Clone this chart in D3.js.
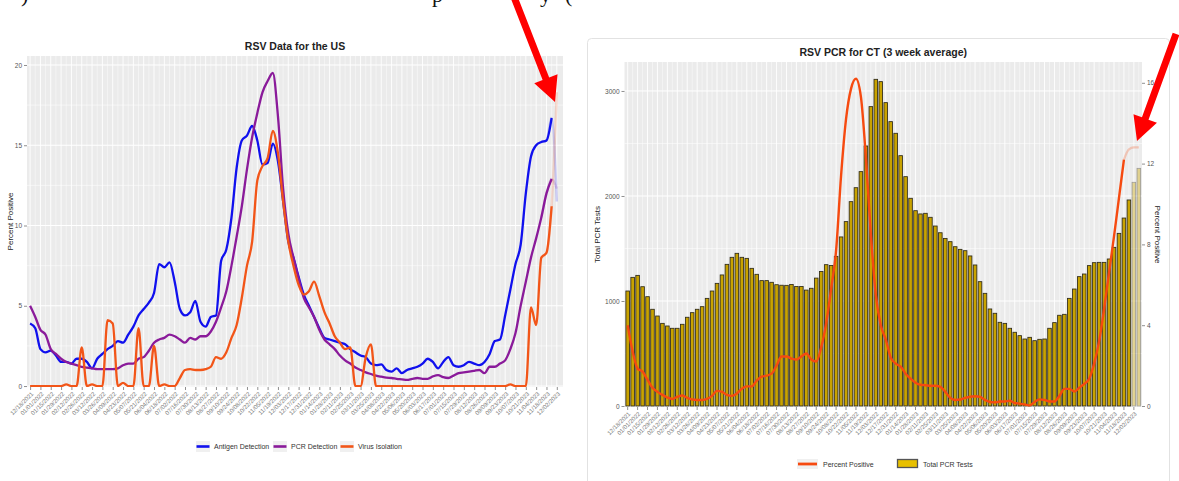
<!DOCTYPE html>
<html>
<head>
<meta charset="utf-8">
<script src="https://cdn.jsdelivr.net/npm/d3@7"></script>
<style>
  body { margin: 0; background: #fff; }
  svg { display: block; font-family: "Liberation Sans", Arial, sans-serif; }
</style>
</head>
<body>
<script>
// biweekly tick labels shared by both panels (week 0 = 12/18/2021)
const tickLabels = ["12/18/2021","01/01/2022","01/15/2022","01/29/2022","02/12/2022","02/26/2022","03/12/2022","03/26/2022","04/09/2022","04/23/2022","05/07/2022","05/21/2022","06/04/2022","06/18/2022","07/02/2022","07/16/2022","07/30/2022","08/13/2022","08/27/2022","09/10/2022","09/24/2022","10/08/2022","10/22/2022","11/05/2022","11/19/2022","12/03/2022","12/17/2022","12/31/2022","01/14/2023","01/28/2023","02/11/2023","02/25/2023","03/11/2023","03/25/2023","04/08/2023","04/22/2023","05/06/2023","05/20/2023","06/03/2023","06/17/2023","07/01/2023","07/15/2023","07/29/2023","08/12/2023","08/26/2023","09/09/2023","09/23/2023","10/07/2023","10/21/2023","11/04/2023","11/18/2023","12/02/2023"];

// US weekly percent positive, last value is the faded (incomplete) week
const antigen = [3.9,3.6,2.3,2.1,2.2,1.9,1.5,1.5,1.4,1.7,
  1.7,1.5,1.1,1.7,2.0,2.3,2.5,2.8,2.7,3.2,
  3.7,4.4,4.8,5.2,5.8,7.6,7.4,7.7,6.5,4.8,
  4.4,4.6,5.3,4.0,3.7,4.3,4.4,7.8,8.5,10.5,
  13.6,15.3,15.6,16.2,15.3,13.8,13.9,15.1,14.0,11.5,
  9.0,8.0,6.8,5.7,5.0,4.3,3.6,3.0,2.9,2.8,
  2.7,2.6,2.3,2.1,1.9,1.8,1.4,1.3,1.35,1.0,
  0.9,1.1,0.8,1.0,1.1,1.2,1.4,1.7,1.5,1.1,
  1.5,1.8,1.3,1.2,1.3,1.5,1.4,1.3,1.5,2.0,
  2.8,2.9,4.4,6.0,7.6,8.8,12.0,14.3,15.0,15.2,
  15.3,16.7,11.5];
const pcrUS = [5.0,4.3,3.5,3.2,2.3,2.0,1.7,1.5,1.4,1.3,
  1.2,1.15,1.1,1.05,1.05,1.05,1.05,1.1,1.3,1.4,
  1.4,1.7,1.8,2.2,2.7,2.9,3.0,3.2,3.1,2.9,
  2.7,3.0,2.9,3.1,3.1,3.4,4.0,4.9,5.9,7.5,
  9.3,11.2,13.5,15.5,17.0,18.3,19.0,19.5,16.8,12.3,
  9.5,8.0,6.7,5.5,4.9,4.3,3.5,2.9,2.6,2.3,
  1.9,1.6,1.4,1.15,1.0,0.85,0.75,0.65,0.58,0.52,
  0.5,0.45,0.42,0.38,0.45,0.5,0.45,0.45,0.6,0.68,
  0.55,0.5,0.65,0.8,0.85,0.9,0.95,1.0,0.8,1.2,
  1.2,1.4,1.6,2.3,3.3,5.0,6.5,8.0,9.2,10.5,
  12.0,12.9,12.3];
const virusIso = [0,0,0,0,0,0,0,0.1,0,0,
  2.4,0,0.1,0,0,4.1,3.9,0,0.2,0,
  0,3.6,0,0,2.5,0,0.1,0,0,0.5,
  1.0,1.05,1.0,1.0,1.05,1.2,1.8,1.7,2.1,3.0,
  3.8,5.5,7.5,9.0,12.8,13.7,14.2,15.9,14.5,11.5,
  9.0,7.5,6.3,5.7,5.9,6.5,5.6,4.6,3.9,3.1,
  2.7,2.3,2.4,0,0,1.8,2.6,0,0,0,
  0,0,0,0,0,0,0,0,0,0,
  0,0,0,0,0,0,0,0,0,0,
  0,0,0,0.1,0,0,0,4.9,3.8,8.0,
  8.3,11.2,18.3];

// CT weekly totals (3 week average), last two weeks faded
const ctTests = [1095,1225,1244,1136,1041,921,857,787,762,740,
  740,778,845,889,921,946,1025,1095,1168,1248,
  1349,1416,1454,1416,1406,1311,1254,1194,1194,1178,
  1155,1150,1149,1157,1138,1138,1104,1121,1218,1281,
  1346,1338,1425,1610,1756,1946,2079,2232,2476,2851,
  3111,3089,2889,2708,2597,2384,2184,1978,1860,1829,
  1835,1797,1714,1650,1596,1565,1517,1492,1479,1429,
  1343,1184,1073,924,883,797,787,740,702,670,
  638,654,622,635,638,740,794,864,873,1025,
  1114,1232,1257,1337,1365,1368,1368,1400,1511,1644,
  1790,1962,2130,2263];
// CT percent positive, weeks 101-103 faded
const ctPct = [4.0,2.7,1.85,1.7,1.3,0.9,0.7,0.55,0.42,0.35,
  0.45,0.52,0.4,0.32,0.3,0.3,0.35,0.5,0.75,0.7,
  0.55,0.5,0.62,0.85,0.97,0.97,1.25,1.45,1.5,1.6,
  2.0,2.45,2.45,2.35,2.3,2.45,2.6,2.3,2.2,2.9,
  4.1,5.8,7.7,11.4,14.2,15.7,16.2,15.3,12.3,8.5,
  5.5,4.0,3.3,2.4,2.1,1.95,1.6,1.35,1.15,1.05,
  1.03,1.0,1.0,0.95,0.7,0.4,0.3,0.32,0.4,0.46,
  0.48,0.45,0.3,0.2,0.18,0.22,0.22,0.26,0.15,0.12,
  0.08,0.03,0.2,0.33,0.3,0.22,0.22,0.5,0.85,0.85,
  0.72,0.9,1.1,1.35,2.1,3.2,4.8,6.6,8.4,10.3,
  12.2,12.7,12.8,12.8];

const usNames = ["Antigen Detection","PCR Detection","Virus Isolation"];
const usColors = ["#1010ee","#8a1a9a","#f25518"];
const ctColor = "#f64a10";

var svg = d3.select("body").append("svg")
  .attr("width", 1179).attr("height", 481);

// cut-off line of report text above the figures
var topBits = [[")", 21], ["p", 432], ["y", 540], ["(", 565]];
svg.append("g").selectAll("text").data(topBits).enter().append("text")
  .attr("x", d => d[1]).attr("y", 2)
  .attr("font-family", "'Liberation Serif', 'DejaVu Serif', serif")
  .attr("font-size", 22).attr("fill", "#111")
  .text(d => d[0]);

// ================= left: RSV Data for the US =================
var L = {x0: 27, x1: 563, y0: 56, y1: 387};
var xUS = d3.scaleLinear().domain([-0.6, 103.2]).range([L.x0, L.x1]);
var yUS = d3.scaleLinear().domain([-0.06, 20.56]).range([L.y1, L.y0]);

var gL = svg.append("g");
gL.append("rect").attr("x", L.x0).attr("y", L.y0)
  .attr("width", L.x1 - L.x0).attr("height", L.y1 - L.y0).attr("fill", "#ebebeb");

//minor and major grid
gL.append("g").selectAll("line").data([2.5, 7.5, 12.5, 17.5]).enter().append("line")
  .attr("x1", L.x0).attr("x2", L.x1).attr("y1", d => yUS(d)).attr("y2", d => yUS(d))
  .attr("stroke", "#fff").attr("stroke-width", 0.5);
gL.append("g").selectAll("line").data(d3.range(0, 103)).enter().append("line")
  .attr("x1", d => xUS(d)).attr("x2", d => xUS(d)).attr("y1", L.y0).attr("y2", L.y1)
  .attr("stroke", "#fff").attr("stroke-width", d => d % 2 ? 0.45 : 0.9);
gL.append("g").selectAll("line").data([0, 5, 10, 15, 20]).enter().append("line")
  .attr("x1", L.x0).attr("x2", L.x1).attr("y1", d => yUS(d)).attr("y2", d => yUS(d))
  .attr("stroke", "#fff").attr("stroke-width", 1);

svg.append("clipPath").attr("id", "clipL").append("rect")
  .attr("x", L.x0).attr("y", L.y0 - 2).attr("width", L.x1 - L.x0).attr("height", L.y1 - L.y0 + 2);

var usLine = d3.line().x(d => xUS(d[0])).y(d => yUS(d[1])).curve(d3.curveMonotoneX);
var usSeries = [antigen, pcrUS, virusIso];
var linesL = gL.append("g").attr("clip-path", "url(#clipL)");
usSeries.forEach(function(vals, k) {
  var pts = vals.map((v, i) => [i, v]);
  linesL.append("path").datum(pts.slice(99))
    .attr("d", usLine).attr("fill", "none")
    .attr("stroke", usColors[k]).attr("stroke-width", 2.4).attr("opacity", 0.18);
  linesL.append("path").datum(pts.slice(0, 102))
    .attr("d", usLine).attr("fill", "none")
    .attr("stroke", usColors[k]).attr("stroke-width", 2.3)
    .attr("stroke-linejoin", "round");
});

// axes
var axLy = gL.append("g").attr("transform", `translate(${L.x0},0)`)
  .call(d3.axisLeft(yUS).tickValues([0, 5, 10, 15, 20]).tickSize(3).tickPadding(2));
var axLx = gL.append("g").attr("transform", `translate(0,${L.y1})`)
  .call(d3.axisBottom(xUS).tickValues(d3.range(0, 103, 2)).tickSize(3)
    .tickFormat(d => tickLabels[d / 2]));
[axLy, axLx].forEach(function(ax) {
  ax.select(".domain").remove();
  ax.selectAll(".tick line").attr("stroke", "#444").attr("stroke-width", 0.6);
  ax.selectAll("text").attr("fill", "#555").attr("font-size", 6.5);
});
axLx.selectAll("text").attr("font-size", 6).attr("fill", "#777")
  .attr("text-anchor", "end").attr("y", 0).attr("dy", "0.3em")
  .attr("transform", "translate(2,6) rotate(-45)");

gL.append("text").attr("x", (L.x0 + L.x1) / 2).attr("y", 50)
  .attr("text-anchor", "middle").attr("font-size", 10.5).attr("font-weight", "bold")
  .attr("fill", "#222").text("RSV Data for the US");
gL.append("text").attr("transform", `translate(13,${(L.y0 + L.y1) / 2}) rotate(-90)`)
  .attr("text-anchor", "middle").attr("font-size", 8).attr("fill", "#222")
  .text("Percent Positive");

// legend
var legL = gL.append("g").selectAll("g").data(usNames).enter().append("g")
  .attr("transform", (d, k) => `translate(${[196, 273, 340][k]},441)`);
legL.append("rect").attr("width", 14).attr("height", 11).attr("fill", "#f0f0f0");
legL.append("line").attr("x1", 0.5).attr("x2", 13.5).attr("y1", 5.5).attr("y2", 5.5)
  .attr("stroke", (d, k) => usColors[k]).attr("stroke-width", 2.6);
legL.append("text").attr("x", 18).attr("y", 8.3).attr("font-size", 7)
  .attr("fill", "#333").text(d => d);

// ================= right: RSV PCR for CT =================
svg.append("rect").attr("x", 587.5).attr("y", 38.5).attr("width", 582).attr("height", 448)
  .attr("rx", 4).attr("fill", "#fff").attr("stroke", "#e2e2e2");

var R = {x0: 624.5, x1: 1142, y0: 62, y1: 407};
var xCT = d3.scaleBand().domain(d3.range(ctTests.length)).range([R.x0, R.x1]).padding(0.28);
var yTests = d3.scaleLinear().domain([0, 3276]).range([406, R.y0]);
var yPct = d3.scaleLinear().domain([0, 17.03]).range([406, R.y0]);
var bw = xCT.bandwidth();

var gR = svg.append("g");
gR.append("rect").attr("x", R.x0).attr("y", R.y0)
  .attr("width", R.x1 - R.x0).attr("height", R.y1 - R.y0).attr("fill", "#ebebeb");
gR.append("g").selectAll("line").data([500, 1500, 2500]).enter().append("line")
  .attr("x1", R.x0).attr("x2", R.x1).attr("y1", d => yTests(d)).attr("y2", d => yTests(d))
  .attr("stroke", "#fff").attr("stroke-width", 0.5);
gR.append("g").selectAll("line").data(d3.range(ctTests.length)).enter().append("line")
  .attr("x1", d => xCT(d) + bw / 2).attr("x2", d => xCT(d) + bw / 2)
  .attr("y1", R.y0).attr("y2", R.y1)
  .attr("stroke", "#fff").attr("stroke-width", d => d % 2 ? 0.45 : 0.9);
gR.append("g").selectAll("line").data([0, 1000, 2000, 3000]).enter().append("line")
  .attr("x1", R.x0).attr("x2", R.x1).attr("y1", d => yTests(d)).attr("y2", d => yTests(d))
  .attr("stroke", "#fff").attr("stroke-width", 1);

// bars
gR.append("g").selectAll("rect").data(ctTests).enter().append("rect")
  .attr("x", (d, i) => xCT(i)).attr("width", bw)
  .attr("y", d => yTests(d)).attr("height", d => 406 - yTests(d))
  .attr("fill", "#c9a300").attr("stroke", "#2e2a1a").attr("stroke-width", 0.85)
  .attr("opacity", (d, i) => i >= ctTests.length - 2 ? 0.4 : 1);

// percent positive line
var ctLine = d3.line().x(d => xCT(d[0]) + bw / 2).y(d => yPct(d[1])).curve(d3.curveMonotoneX);
var ctPts = ctPct.map((v, i) => [i, v]);
gR.append("path").datum(ctPts.slice(100))
  .attr("d", ctLine).attr("fill", "none").attr("stroke", ctColor)
  .attr("stroke-width", 2.2).attr("opacity", 0.25);
gR.append("path").datum(ctPts.slice(0, 101))
  .attr("d", ctLine).attr("fill", "none").attr("stroke", ctColor)
  .attr("stroke-width", 2.4).attr("stroke-linejoin", "round");

// axes
var axRl = gR.append("g").attr("transform", `translate(${R.x0},0)`)
  .call(d3.axisLeft(yTests).tickValues([0, 1000, 2000, 3000]).tickSize(3).tickPadding(2)
    .tickFormat(d3.format("d")));
var axRr = gR.append("g").attr("transform", `translate(${R.x1},0)`)
  .call(d3.axisRight(yPct).tickValues([0, 4, 8, 12, 16]).tickSize(3).tickPadding(2));
var axRx = gR.append("g").attr("transform", `translate(0,${R.y1})`)
  .call(d3.axisBottom(xCT).tickValues(d3.range(0, 103, 2)).tickSize(3)
    .tickFormat(d => tickLabels[d / 2]));
[axRl, axRr, axRx].forEach(function(ax) {
  ax.select(".domain").remove();
  ax.selectAll(".tick line").attr("stroke", "#444").attr("stroke-width", 0.6);
  ax.selectAll("text").attr("fill", "#555").attr("font-size", 6.5);
});
axRx.selectAll("text").attr("font-size", 6).attr("fill", "#777")
  .attr("text-anchor", "end").attr("y", 0).attr("dy", "0.3em")
  .attr("transform", "translate(2,6) rotate(-45)");

gR.append("text").attr("x", (R.x0 + R.x1) / 2).attr("y", 56)
  .attr("text-anchor", "middle").attr("font-size", 10.5).attr("font-weight", "bold")
  .attr("fill", "#222").text("RSV PCR for CT (3 week average)");
gR.append("text").attr("transform", `translate(600,${(R.y0 + R.y1) / 2}) rotate(-90)`)
  .attr("text-anchor", "middle").attr("font-size", 8).attr("fill", "#222")
  .text("Total PCR Tests");
gR.append("text").attr("transform", `translate(1155,${(R.y0 + R.y1) / 2}) rotate(90)`)
  .attr("text-anchor", "middle").attr("font-size", 8).attr("fill", "#222")
  .text("Percent Positive");

// legend
var legR = gR.append("g");
legR.append("rect").attr("x", 797).attr("y", 459).attr("width", 21).attr("height", 10).attr("fill", "#f0f0f0");
legR.append("line").attr("x1", 798).attr("x2", 817).attr("y1", 464).attr("y2", 464)
  .attr("stroke", ctColor).attr("stroke-width", 2.8);
legR.append("text").attr("x", 823).attr("y", 466.5).attr("font-size", 7).attr("fill", "#333")
  .text("Percent Positive");
legR.append("rect").attr("x", 897.5).attr("y", 459.5).attr("width", 20).attr("height", 8)
  .attr("fill", "#e8c000").attr("stroke", "#555").attr("stroke-width", 1.3);
legR.append("text").attr("x", 923).attr("y", 466.5).attr("font-size", 7).attr("fill", "#333")
  .text("Total PCR Tests");

// ================= red arrows =================
function arrowPath(x1, y1, x2, y2, sw, hl, hw) {
  var dx = x2 - x1, dy = y2 - y1, len = Math.hypot(dx, dy);
  var ux = dx / len, uy = dy / len, px = -uy, py = ux;
  var bx = x2 - ux * hl, by = y2 - uy * hl;
  var p = d3.path();
  p.moveTo(x1 + px * sw / 2, y1 + py * sw / 2);
  p.lineTo(bx + px * sw / 2, by + py * sw / 2);
  p.lineTo(bx + px * hw / 2, by + py * hw / 2);
  p.lineTo(x2, y2);
  p.lineTo(bx - px * hw / 2, by - py * hw / 2);
  p.lineTo(bx - px * sw / 2, by - py * sw / 2);
  p.lineTo(x1 - px * sw / 2, y1 - py * sw / 2);
  p.closePath();
  return p.toString();
}
svg.append("path").attr("d", arrowPath(514, -3, 555, 102, 7, 25, 25)).attr("fill", "#ff0000");
svg.append("path").attr("d", arrowPath(1176, 34, 1137, 141, 7, 24, 25)).attr("fill", "#ff0000");
</script>
</body>
</html>
